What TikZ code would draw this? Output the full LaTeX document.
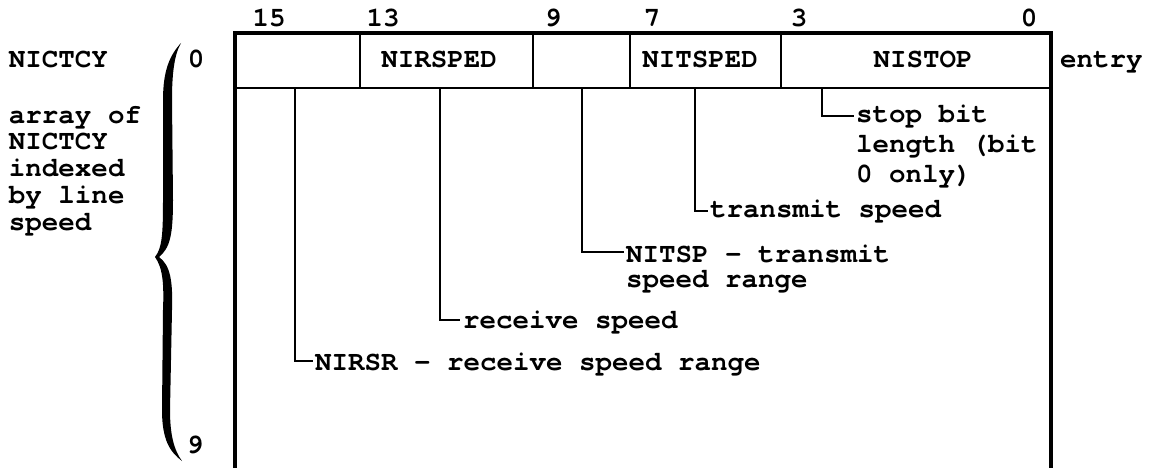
\documentclass[tikz,border=0pt]{standalone}
\usepackage{fontspec}
\newfontfamily\typo{TeX Gyre Cursor}
\begin{document}
\begin{tikzpicture}[x=1pt,y=-1pt,
  txt/.style={font=\typo\bfseries\fontsize{27.5}{29}\selectfont, inner sep=0pt, outer sep=0pt},
  lbl/.style={txt, anchor=base},
  lft/.style={txt, anchor=base west, align=left},
  outerline/.style={line width=3.5pt, line join=miter},
  innerline/.style={line width=2.5pt},
  leader/.style={line width=2.5pt, line join=miter}]
\useasboundingbox (0,0) rectangle (1161,468);

% box
\draw[outerline] (235,470) -- (235,33) -- (1051,33) -- (1051,470);
\draw[innerline] (235,88) -- (1051,88);
\foreach \xx in {360,533,630,781} \draw[innerline] (\xx,33) -- (\xx,88);

% bit numbers
\node[lbl] (b15) at (269,27) {15};
\node[lbl] (b13) at (383,27) {13};
\node[lbl] (b9)  at (553,27) {9};
\node[lbl] (b7)  at (652,27) {7};
\node[lbl] (b3)  at (799,27) {3};
\node[lbl] (b0)  at (1029,27) {0};

% field names
\node[lbl] (nirsped) at (439,68) {NIRSPED};
\node[lbl] (nitsped) at (700,68) {NITSPED};
\node[lbl] (nistop)  at (923,68) {NISTOP};
\node[lft] (entry) at (1060,68) {entry};

% left side (multi-line nodes are placed by their last baseline)
\node[lft] (name) at (9,68) {NICTCY};
\node[lft, font=\typo\bfseries\fontsize{27.5}{26.75}\selectfont] (desc) at (9,230) {array of\\NICTCY\\indexed\\by line\\speed};
\node[lbl] (i0) at (196,68) {0};
\node[lbl] (i9) at (195,453) {9};

% brace
\fill (181,43) .. controls (170,55) and (163,70) .. (163,100) -- (163,200)
  .. controls (163,235) and (162,248) .. (155,257)
  .. controls (163,268) and (164,285) .. (163,310) -- (162,410)
  .. controls (162,440) and (170,452) .. (182,461)
  .. controls (174,450) and (170,435) .. (170,410) -- (172,310)
  .. controls (173,280) and (170,265) .. (159,257)
  .. controls (170,248) and (173,235) .. (173,200) -- (172,100)
  .. controls (172,75) and (174,55) .. (181,43) -- cycle;

% descriptions
\node[lft, font=\typo\bfseries\fontsize{27.5}{29.5}\selectfont] (stopd) at (856,182) {stop bit\\length (bit\\0 only)};
\node[lft] (xspd) at (710,217) {transmit speed};
\node[lft, font=\typo\bfseries\fontsize{27.5}{25.5}\selectfont] (xrng) at (626,287.5) {NITSP - transmit\\speed range};
\node[lft] (rspd) at (463,328) {receive speed};
\node[lft] (rrng) at (315,370) {NIRSR - receive speed range};

% leader origins
\coordinate (c15) at (295,88);
\coordinate (c13) at (440,88);
\coordinate (c9)  at (582,88);
\coordinate (c7)  at (695,88);
\coordinate (c3)  at (822,88);

\draw[leader] (c3)  |- ([shift={(-2,-66)}]stopd.base west);
\draw[leader] (c7)  |- ([shift={(-2,-6)}]xspd.base west);
\draw[leader] (c9)  |- ([shift={(-2,-35.5)}]xrng.base west);
\draw[leader] (c13) |- ([shift={(-3,-8)}]rspd.base west);
\draw[leader] (c15) |- ([shift={(-2,-9)}]rrng.base west);
\end{tikzpicture}
\end{document}
